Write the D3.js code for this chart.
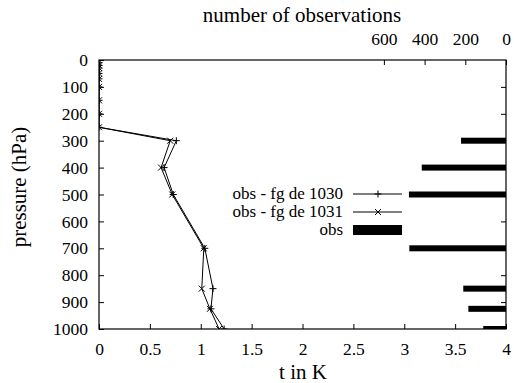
<!DOCTYPE html>
<html>
<head>
<meta charset="utf-8">
<script src="https://cdn.jsdelivr.net/npm/d3@7"></script>
<style>
  body { margin: 0; background: #fff; }
</style>
</head>
<body>
<svg width="514" height="383"></svg>
<script>
// pressure levels (hPa) and departures in K
const levels = [10, 20, 30, 50, 70, 100, 150, 200, 250, 300, 400, 500, 700, 850, 925, 1000];
const fg1030 = [0, 0, 0, 0, 0, 0, 0, 0, 0, 0.76, 0.64, 0.73, 1.04, 1.12, 1.10, 1.23];
const fg1031 = [0, 0, 0, 0, 0, 0, 0, 0, 0, 0.70, 0.61, 0.72, 1.03, 1.01, 1.09, 1.18];

// number of observations per level
const obsLevels = [300, 400, 500, 700, 850, 925, 1000];
const obsCount = [221, 414, 477, 475, 210, 185, 112];

const xTicks = [0, 0.5, 1, 1.5, 2, 2.5, 3, 3.5, 4];
const x2Ticks = [600, 400, 200, 0];
const yTicks = [0, 100, 200, 300, 400, 500, 600, 700, 800, 900, 1000];

const serif = '"Liberation Serif", "Times New Roman", "DejaVu Serif", serif';

const margin = {top: 60, right: 8, bottom: 54, left: 99};
const width = 514 - margin.left - margin.right;
const height = 383 - margin.top - margin.bottom;

const svg = d3.select("svg").style("font-family", serif);
const g = svg.append("g").attr("transform", `translate(${margin.left},${margin.top})`);

const x = d3.scaleLinear().domain([0, 4]).range([0, width]);
const x2 = d3.scaleLinear().domain([2000, 0]).range([0, width]);
const y = d3.scaleLinear().domain([0, 1000]).range([0, height]);

g.append("clipPath").attr("id", "clip")
  .append("rect").attr("width", width).attr("height", height);

// axes (ticks point inward)
const axBottom = g.append("g").attr("transform", `translate(0,${height})`)
  .call(d3.axisBottom(x).tickValues(xTicks).tickSizeInner(-5).tickSizeOuter(0).tickPadding(14)
    .tickFormat(d3.format("")));
const axLeft = g.append("g")
  .call(d3.axisLeft(y).tickValues(yTicks).tickSizeInner(-5).tickSizeOuter(0).tickPadding(11)
    .tickFormat(d3.format("d")));
const axTop = g.append("g")
  .call(d3.axisTop(x2).tickValues(x2Ticks).tickSizeInner(-5).tickSizeOuter(0).tickPadding(15)
    .tickFormat(d3.format("d")));
const axRight = g.append("g").attr("transform", `translate(${width},0)`)
  .call(d3.axisRight(y).tickValues(yTicks.slice(1, -1)).tickSizeInner(-5).tickSizeOuter(0).tickFormat(""));

[axBottom, axLeft, axTop, axRight].forEach(a => {
  a.attr("font-family", null).attr("font-size", null);
  a.select(".domain").remove();
  a.selectAll("text").style("font-family", serif).style("font-size", "17.5px");
  a.selectAll("line").attr("stroke", "#000");
});

g.append("rect").attr("width", width).attr("height", height)
  .attr("fill", "none").attr("stroke", "#000").attr("stroke-width", 1.2);

// observation bars
const plot = g.append("g").attr("clip-path", "url(#clip)");
plot.selectAll(".bar").data(obsLevels).enter().append("rect")
  .attr("x", (d, i) => x2(obsCount[i]))
  .attr("y", d => y(d) - 3)
  .attr("width", (d, i) => x2(0) - x2(obsCount[i]))
  .attr("height", 6)
  .attr("fill", "#000");

// departure lines
const line = d3.line().x(d => x(d[0])).y(d => y(d[1]));
const s1030 = fg1030.map((v, i) => [v, levels[i]]);
const s1031 = fg1031.map((v, i) => [v, levels[i]]);

[s1030, s1031].forEach(s => {
  plot.append("path").datum(s).attr("d", line)
    .attr("fill", "none").attr("stroke", "#000").attr("stroke-width", 1);
});

const plus = "M-3.5,0H3.5M0,-3.5V3.5";
const cross = "M-3,-3L3,3M-3,3L3,-3";
plot.selectAll(".p1").data(s1030).enter().append("path")
  .attr("transform", d => `translate(${x(d[0])},${y(d[1])})`)
  .attr("d", plus).attr("stroke", "#000").attr("fill", "none");
plot.selectAll(".p2").data(s1031).enter().append("path")
  .attr("transform", d => `translate(${x(d[0])},${y(d[1])})`)
  .attr("d", cross).attr("stroke", "#000").attr("fill", "none");

// legend
const legendData = [
  {label: "obs - fg de 1030", marker: plus},
  {label: "obs - fg de 1031", marker: cross},
  {label: "obs", bar: true}
];
const legend = svg.append("g").attr("transform", "translate(343,194)");
legendData.forEach((d, i) => {
  const row = legend.append("g").attr("transform", `translate(0,${i * 18})`);
  row.append("text").attr("text-anchor", "end").attr("dy", "0.32em")
    .style("font-size", "17px").text(d.label);
  if (d.bar) {
    row.append("rect").attr("x", 10).attr("y", -5).attr("width", 49).attr("height", 10).attr("fill", "#000");
  } else {
    row.append("line").attr("x1", 10).attr("x2", 59).attr("stroke", "#000");
    row.append("path").attr("transform", "translate(35,0)").attr("d", d.marker).attr("stroke", "#000");
  }
});

// axis titles
svg.append("text").attr("x", 302).attr("y", 22).attr("text-anchor", "middle")
  .style("font-size", "21px").text("number of observations");
svg.append("text").attr("x", 303).attr("y", 379).attr("text-anchor", "middle")
  .style("font-size", "21px").text("t in K");
svg.append("text").attr("transform", "translate(26,187) rotate(-90)").attr("text-anchor", "middle")
  .style("font-size", "21px").text("pressure (hPa)");
</script>
</body>
</html>
